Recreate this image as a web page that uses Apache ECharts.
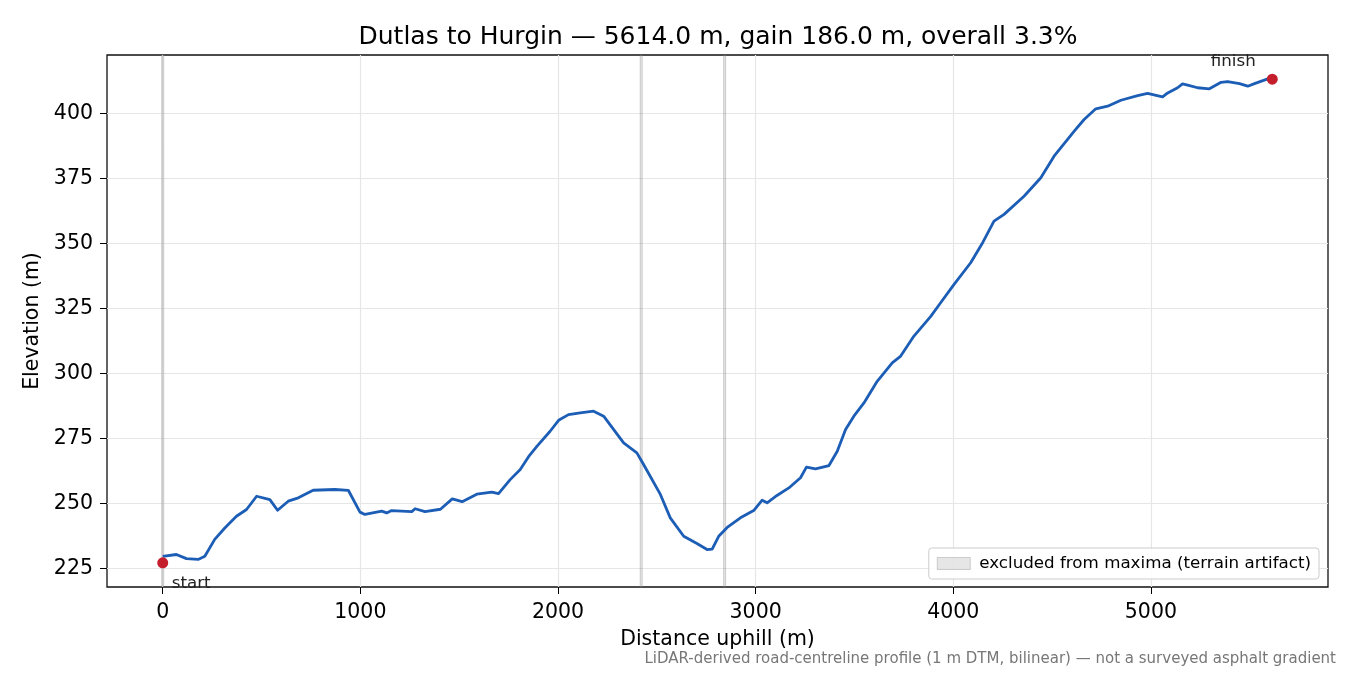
<!DOCTYPE html>
<html lang="en">
<head>
    <meta charset="UTF-8">
    <title>Dutlas to Hurgin elevation profile</title>
    <script src="https://cdn.jsdelivr.net/npm/echarts@6.0.0/dist/echarts.min.js"></script>
    <style>
        body { margin: 0; padding: 0; background: #fff; }
        #main { width: 1350px; height: 675px; }
    </style>
</head>
<body>
    <div id="main"></div>
    <script>
        // distance uphill (m) and elevation (m)
        const distances = [
            0, 69, 120, 179, 213, 263, 314, 373, 424, 475,
            542, 581, 635, 686, 761, 871, 939, 998, 1023, 1108,
            1133, 1158, 1260, 1277, 1327, 1405, 1465, 1515, 1589, 1665,
            1699, 1758, 1809, 1851, 1893, 1960, 2003, 2053, 2112, 2180,
            2231, 2281, 2332, 2399, 2433, 2518, 2568, 2636, 2703, 2754,
            2780, 2813, 2856, 2923, 2990, 3033, 3058, 3108, 3168, 3227,
            3257, 3303, 3371, 3413, 3455, 3497, 3548, 3615, 3691, 3734,
            3801, 3886, 3936, 4003, 4088, 4150, 4206, 4257, 4358, 4443,
            4510, 4612, 4662, 4721, 4781, 4848, 4933, 4983, 5059, 5085,
            5135, 5160, 5186, 5236, 5296, 5355, 5388, 5448, 5490, 5524,
            5591, 5614
        ];
        const elevations = [
            229.7, 230.4, 228.8, 228.5, 229.7, 236.2, 240.6, 245.1, 247.7, 252.8,
            251.5, 247.4, 250.9, 252.2, 255.1, 255.4, 255.1, 246.7, 245.8, 247.1,
            246.4, 247.3, 246.9, 248.0, 246.9, 247.8, 251.8, 250.7, 253.6, 254.4,
            253.8, 259.2, 263.1, 268.0, 272.0, 277.8, 282.0, 284.2, 284.9, 285.5,
            283.6, 278.5, 273.3, 269.5, 265.0, 253.5, 244.5, 237.4, 234.6, 232.3,
            232.5, 237.4, 240.8, 244.5, 247.3, 251.3, 250.3, 253.1, 256.0, 259.9,
            264.0, 263.3, 264.6, 270.1, 278.5, 283.6, 288.7, 297.0, 304.1, 306.7,
            314.4, 322.0, 327.2, 334.2, 342.6, 350.5, 358.6, 361.2, 368.2, 375.3,
            383.6, 393.2, 397.7, 401.8, 402.8, 405.1, 406.9, 407.7, 406.4, 407.9,
            409.9, 411.4, 410.9, 409.9, 409.5, 412.0, 412.3, 411.5, 410.5, 411.5,
            413.3, 413.2
        ];
        const endpoints = [
            { name: 'start', d: 0, e: 227.2 },
            { name: 'finish', d: 5614, e: 413.2 }
        ];
        // narrow spans flagged as terrain artifacts
        const excludedSpans = [[-5, 5], [2416, 2426], [2838, 2848]];
        const xTicks = [0, 1000, 2000, 3000, 4000, 5000];
        const yTicks = [225, 250, 275, 300, 325, 350, 375, 400];

        const FONT = 'DejaVu Sans';
        const excludedName = 'excluded from maxima (terrain artifact)';
        const profile = distances.map((d, i) => [d, elevations[i]]);

        const chart = echarts.init(document.getElementById('main'));
        chart.setOption({
            animation: false,
            textStyle: { fontFamily: FONT },
            title: {
                text: 'Dutlas to Hurgin \u2014 5614.0 m, gain 186.0 m, overall 3.3%',
                left: 713, top: 20, textAlign: 'center',
                textStyle: { fontFamily: FONT, fontSize: 25, fontWeight: 'normal', color: '#000' }
            },
            grid: { left: 107, right: 22, top: 55, bottom: 88, show: true, borderColor: '#111', borderWidth: 1.3, backgroundColor: 'transparent' },
            legend: {
                right: 31, top: 548,
                data: [{ name: excludedName, icon: 'rect', itemStyle: { color: 'rgba(128,128,128,0.2)', borderColor: 'rgba(128,128,128,0.35)', borderWidth: 1 } }],
                itemWidth: 33, itemHeight: 12, itemGap: 10,
                padding: [7, 8, 7, 8],
                backgroundColor: 'rgba(255,255,255,0.85)',
                borderColor: '#cccccc', borderWidth: 1, borderRadius: 3,
                textStyle: { fontFamily: FONT, fontSize: 16.7, color: '#000', padding: [0, 0, 0, 4] },
                selectedMode: false
            },
            xAxis: {
                type: 'value', min: -282, max: 5896,
                name: 'Distance uphill (m)', nameLocation: 'middle', nameGap: 42,
                nameTextStyle: { fontFamily: FONT, fontSize: 20.5, color: '#000' },
                axisLine: { show: false, onZero: false },
                axisTick: { show: true, inside: false, length: 7, customValues: xTicks, lineStyle: { color: '#000', width: 1 } },
                axisLabel: { customValues: xTicks, formatter: v => String(v), fontFamily: FONT, fontSize: 20.5, color: '#000', margin: 15 },
                splitLine: { show: true, lineStyle: { color: '#e6e6e6', width: 1.2 } }
            },
            yAxis: {
                type: 'value', min: 217.9, max: 422.5,
                name: 'Elevation (m)', nameLocation: 'middle', nameGap: 62,
                nameTextStyle: { fontFamily: FONT, fontSize: 20.5, color: '#000' },
                axisLine: { show: false, onZero: false },
                axisTick: { show: true, inside: false, length: 7, customValues: yTicks, lineStyle: { color: '#000', width: 1 } },
                axisLabel: { customValues: yTicks, formatter: v => String(v), fontFamily: FONT, fontSize: 20.5, color: '#000', margin: 14 },
                splitLine: { show: true, lineStyle: { color: '#e6e6e6', width: 1.2 } }
            },
            series: [
                {
                    name: excludedName, type: 'line', data: [], silent: true,
                    itemStyle: { color: 'rgba(128,128,128,0.2)' },
                    markArea: {
                        silent: true,
                        itemStyle: { color: 'rgba(128,128,128,0.2)', borderColor: 'rgba(128,128,128,0.35)', borderWidth: 1 },
                        data: excludedSpans.map(s => [{ xAxis: s[0] }, { xAxis: s[1] }])
                    }
                },
                {
                    name: 'profile', type: 'line', data: profile, showSymbol: false, z: 5,
                    lineStyle: { color: '#1c5db5', width: 2.8, join: 'round' }
                },
                {
                    name: 'endpoints', type: 'scatter', z: 6, symbolSize: 11,
                    itemStyle: { color: '#c41e2c', opacity: 1 },
                    data: endpoints.map(p => ({
                        name: p.name, value: [p.d, p.e],
                        label: p.name === 'start'
                            ? { show: true, formatter: p.name, position: 'inside', align: 'left', verticalAlign: 'middle', offset: [9, 21], fontSize: 16.7, color: '#222' }
                            : { show: true, formatter: p.name, position: 'inside', align: 'center', verticalAlign: 'middle', offset: [-39, -18], fontSize: 16.7, color: '#222' }
                    }))
                }
            ],
            graphic: [{
                type: 'text', right: 14, top: 652,
                style: { text: 'LiDAR-derived road-centreline profile (1 m DTM, bilinear) \u2014 not a surveyed asphalt gradient', font: '15px "DejaVu Sans"', fill: '#777' }
            }]
        });
    </script>
</body>
</html>
